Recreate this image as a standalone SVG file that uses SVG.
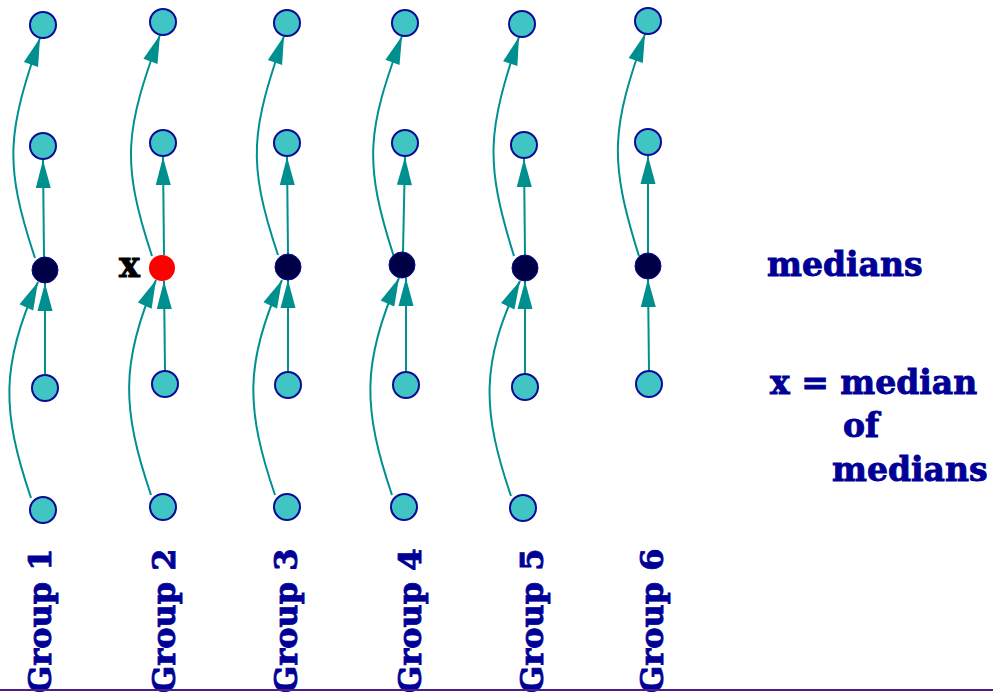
<svg xmlns="http://www.w3.org/2000/svg" width="993" height="697" viewBox="0 0 993 697">
<style>
.n{fill:#40C4C4;stroke:#0A0A96;stroke-width:2}
.m{fill:#000046;stroke:#0A0A96;stroke-width:1}
.r{fill:#FF0000}
.e{fill:none;stroke:#009090;stroke-width:2}
.t{font-family:"DejaVu Serif","Liberation Serif",serif;font-weight:bold;fill:#000096;stroke:#000096;stroke-width:0.9}
.g{font-size:32px}
.k{font-size:33px}
</style>
<defs>
<marker id="a" markerUnits="userSpaceOnUse" markerWidth="30" markerHeight="16" refX="28" refY="7.5" orient="auto" overflow="visible">
<path d="M0,0 L28,7.5 L0,15 z" fill="#008F8F"/>
</marker>
</defs>
<rect width="993" height="697" fill="#fff"/>
<g id="connectors">
<!-- Group 1 -->
<path class="e" marker-end="url(#a)" d="M45,375 L45,283"/>
<path class="e" marker-end="url(#a)" d="M44,257 L43,160"/>
<path class="e" marker-end="url(#a)" d="M31,498 C2,413 0,365 38,282"/>
<path class="e" marker-end="url(#a)" d="M35,258 C3,162 8,132 40,38"/>
<!-- Group 2 -->
<path class="e" marker-end="url(#a)" d="M165,371 L164,281"/>
<path class="e" marker-end="url(#a)" d="M164,255 L163,157"/>
<path class="e" marker-end="url(#a)" d="M151,495 C122,410 120,362 156,280"/>
<path class="e" marker-end="url(#a)" d="M152,256 C120,160 126,129 160,35"/>
<!-- Group 3 -->
<path class="e" marker-end="url(#a)" d="M288,372 L288,280"/>
<path class="e" marker-end="url(#a)" d="M288,254 L287,157"/>
<path class="e" marker-end="url(#a)" d="M275,495 C246,410 244,362 282,280"/>
<path class="e" marker-end="url(#a)" d="M278,255 C246,160 252,130 284,36"/>
<!-- Group 4 -->
<path class="e" marker-end="url(#a)" d="M406,372 L406,278"/>
<path class="e" marker-end="url(#a)" d="M403,252 L405,157"/>
<path class="e" marker-end="url(#a)" d="M392,495 C363,410 361,362 399,278"/>
<path class="e" marker-end="url(#a)" d="M395,260 C362,160 368,130 402,36"/>
<!-- Group 5 -->
<path class="e" marker-end="url(#a)" d="M525,374 L525,281"/>
<path class="e" marker-end="url(#a)" d="M525,255 L524,159"/>
<path class="e" marker-end="url(#a)" d="M511,496 C482,411 480,363 520,281"/>
<path class="e" marker-end="url(#a)" d="M514,256 C484,160 488,131 519,37"/>
<!-- Group 6 -->
<path class="e" marker-end="url(#a)" d="M649,371 L648,279"/>
<path class="e" marker-end="url(#a)" d="M648,253 L648,156"/>
<path class="e" marker-end="url(#a)" d="M639,256 C608,158 612,128 645,34"/>
</g>
<g id="group1">
<circle class="n" cx="43" cy="25" r="13"/>
<circle class="n" cx="43" cy="146" r="13"/>
<circle class="m" cx="45" cy="270" r="13"/>
<circle class="n" cx="45" cy="388" r="13"/>
<circle class="n" cx="43" cy="510" r="13"/>
<text class="t g" transform="translate(51,693) rotate(-90)">Group 1</text>
</g>
<g id="group2">
<circle class="n" cx="163" cy="22" r="13"/>
<circle class="n" cx="163" cy="143" r="13"/>
<circle class="r" cx="162" cy="268" r="13"/>
<circle class="n" cx="165" cy="384" r="13"/>
<circle class="n" cx="163" cy="507" r="13"/>
<text class="t g" transform="translate(175,693) rotate(-90)">Group 2</text>
</g>
<g id="group3">
<circle class="n" cx="287" cy="23" r="13"/>
<circle class="n" cx="287" cy="143" r="13"/>
<circle class="m" cx="288" cy="267" r="13"/>
<circle class="n" cx="288" cy="385" r="13"/>
<circle class="n" cx="287" cy="507" r="13"/>
<text class="t g" transform="translate(297,693) rotate(-90)">Group 3</text>
</g>
<g id="group4">
<circle class="n" cx="405" cy="23" r="13"/>
<circle class="n" cx="405" cy="143" r="13"/>
<circle class="m" cx="402" cy="265" r="13"/>
<circle class="n" cx="406" cy="385" r="13"/>
<circle class="n" cx="404" cy="507" r="13"/>
<text class="t g" transform="translate(421,693) rotate(-90)">Group 4</text>
</g>
<g id="group5">
<circle class="n" cx="522" cy="24" r="13"/>
<circle class="n" cx="524" cy="145" r="13"/>
<circle class="m" cx="525" cy="268" r="13"/>
<circle class="n" cx="525" cy="387" r="13"/>
<circle class="n" cx="523" cy="508" r="13"/>
<text class="t g" transform="translate(543,693) rotate(-90)">Group 5</text>
</g>
<g id="group6">
<circle class="n" cx="648" cy="21" r="13"/>
<circle class="n" cx="648" cy="142" r="13"/>
<circle class="m" cx="648" cy="266" r="13"/>
<circle class="n" cx="649" cy="384" r="13"/>
<text class="t g" transform="translate(663,693) rotate(-90)">Group 6</text>
</g>
<g id="labels">
<text x="119" y="277" font-family="DejaVu Serif,Liberation Serif,serif" font-weight="bold" font-size="35" fill="#000" stroke="#000" stroke-width="0.9">x</text>
<text class="t k" x="767" y="276">medians</text>
<text class="t k" x="770" y="394">x = median</text>
<text class="t k" x="843" y="437">of</text>
<text class="t k" x="832" y="481">medians</text>
</g>
<line x1="0" y1="690" x2="993" y2="690" stroke="#4B1E8C" stroke-width="2"/>
</svg>
